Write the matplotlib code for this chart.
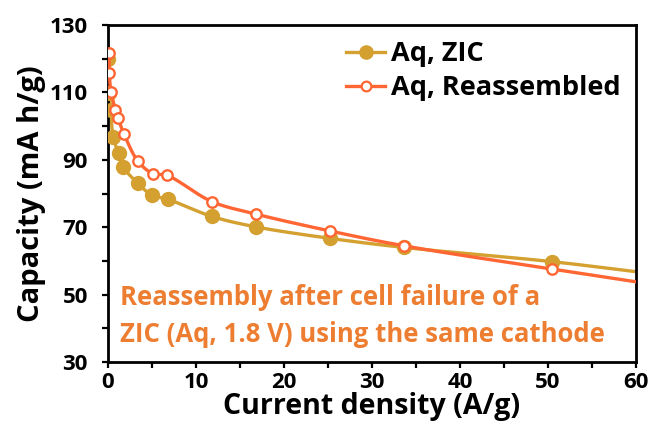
import numpy as np
import matplotlib
matplotlib.use("Agg")
import matplotlib.pyplot as plt

# Rate capability: capacity vs. current density
zic_x = [0.05, 0.15, 0.3, 0.6, 1.2, 1.7, 3.4, 5.0, 6.8, 11.8, 16.8, 25.2, 33.6, 50.4]
zic_y = [120.0, 109.8, 104.8, 96.7, 91.9, 88.0, 83.0, 79.5, 78.3, 73.2, 70.1, 66.7, 64.0, 59.8]
re_x = [0.12, 0.15, 0.35, 0.85, 1.15, 1.8, 3.4, 5.1, 6.7, 11.8, 16.8, 25.2, 33.6, 50.4]
re_y = [121.6, 115.7, 110.2, 104.8, 102.3, 97.8, 89.6, 85.9, 85.4, 77.6, 73.9, 68.9, 64.5, 57.6]

# trend lines continue to the axis end
tail_x = 60.0
zic_tail = 56.8
re_tail = 53.8

series_names = ["Aq, ZIC", "Aq, Reassembled"]
x_ticks = [0, 10, 20, 30, 40, 50, 60]
y_ticks = [30, 50, 70, 90, 110, 130]

GOLD = "#D4A030"
ORANGE = "#FF6633"
NOTE = "#ED7D31"

plt.rcParams["font.family"] = ["Open Sans", "DejaVu Sans"]
plt.rcParams["font.weight"] = "bold"


def smooth(xs, ys, n=30):
    """Centripetal Catmull-Rom curve through the given points."""
    p = np.column_stack([xs, ys]).astype(float)
    # scale axes so parametrisation is isotropic in display space
    s = np.array([8.8, 3.37])
    q = p * s
    q = np.vstack([2 * q[0] - q[1], q, 2 * q[-1] - q[-2]])
    out = []
    for i in range(1, len(q) - 2):
        p0, p1, p2, p3 = q[i - 1], q[i], q[i + 1], q[i + 2]
        def tj(ti, a, b):
            return ti + max(np.linalg.norm(b - a), 1e-6) ** 0.5
        t0 = 0.0
        t1 = tj(t0, p0, p1)
        t2 = tj(t1, p1, p2)
        t3 = tj(t2, p2, p3)
        t = np.linspace(t1, t2, n)[:, None]
        a1 = (t1 - t) / (t1 - t0) * p0 + (t - t0) / (t1 - t0) * p1
        a2 = (t2 - t) / (t2 - t1) * p1 + (t - t1) / (t2 - t1) * p2
        a3 = (t3 - t) / (t3 - t2) * p2 + (t - t2) / (t3 - t2) * p3
        b1 = (t2 - t) / (t2 - t0) * a1 + (t - t0) / (t2 - t0) * a2
        b2 = (t3 - t) / (t3 - t1) * a2 + (t - t1) / (t3 - t1) * a3
        c = (t2 - t) / (t2 - t1) * b1 + (t - t1) / (t2 - t1) * b2
        out.append(c)
    c = np.vstack(out) / s
    return c[:, 0], c[:, 1]


fig = plt.figure(figsize=(6.52, 4.37), dpi=100)
ax = fig.add_axes([0.1656, 0.1716, 0.8099, 0.7712])

zx, zy = smooth(zic_x + [tail_x], zic_y + [zic_tail])
rx, ry = smooth(re_x + [tail_x], re_y + [re_tail])

ax.plot(zx, zy, color=GOLD, lw=2.4, zorder=2)
ax.plot(zic_x, zic_y, ls="none", marker="o", ms=10, color=GOLD, zorder=3)
ax.plot(rx, ry, color=ORANGE, lw=2.4, zorder=4)
ax.plot(re_x, re_y, ls="none", marker="o", ms=7.5, mfc="white", mec=ORANGE,
        mew=1.7, zorder=5)

# legend proxies (line + marker)
h1, = ax.plot([], [], color=GOLD, lw=2.4, marker="o", ms=9.5)
h2, = ax.plot([], [], color=ORANGE, lw=2.4, marker="o", ms=7.0, mfc="white",
              mec=ORANGE, mew=1.6)
leg = ax.legend([h1, h2], series_names, loc="upper left",
                bbox_to_anchor=(0.42, 1.0), frameon=False,
                prop={"size": 19.5, "weight": "bold"}, handlelength=1.45,
                handletextpad=0.2, labelspacing=0.3, borderaxespad=0.2)

ax.text(0.022, 0.232, "Reassembly after cell failure of a\nZIC (Aq, 1.8 V) using the same cathode",
        transform=ax.transAxes, color=NOTE, fontsize=18.5, fontweight="bold",
        ha="left", va="top", linespacing=1.5)

ax.set_xlim(0, 60)
ax.set_ylim(30, 130)
ax.set_xticks(x_ticks)
ax.set_xticks(np.arange(0, 61, 5), minor=True)
ax.set_yticks(y_ticks)
ax.set_yticks(np.arange(30, 131, 10), minor=True)
ax.tick_params(which="both", direction="out", length=4.5, width=1.6,
               top=False, right=False)
ax.tick_params(axis="x", pad=3)
ax.tick_params(axis="y", pad=10)
for lab in ax.get_xticklabels() + ax.get_yticklabels():
    lab.set_fontweight("bold")
    lab.set_fontsize(16)
for sp in ax.spines.values():
    sp.set_linewidth(2.0)

ax.set_xlabel("Current density (A/g)", fontsize=20.5, fontweight="bold")
ax.xaxis.set_label_coords(0.5, -0.088)
ax.set_ylabel("Capacity (mA h/g)", fontsize=21, fontweight="bold", labelpad=3)

fig.savefig("out.png", dpi=100)
